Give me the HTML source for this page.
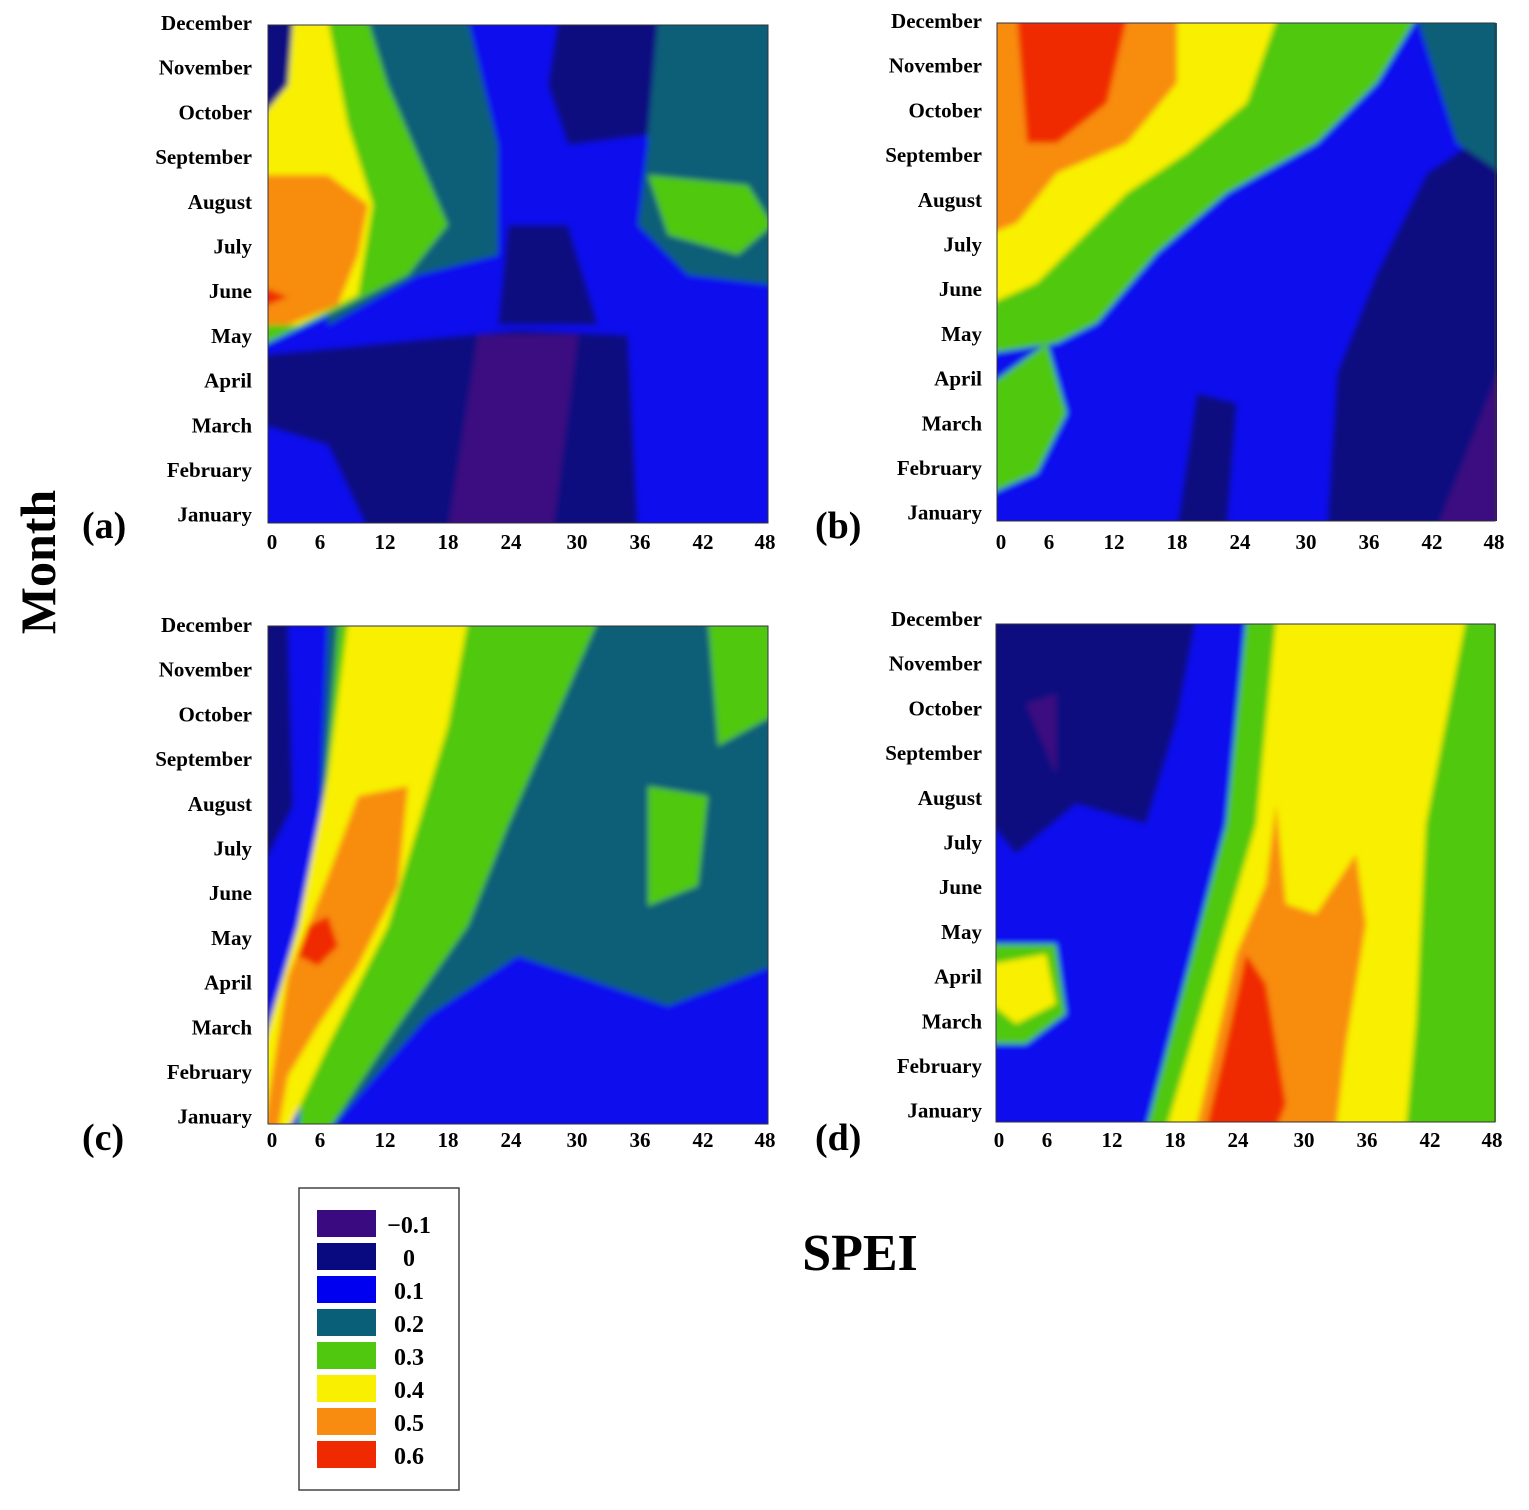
<!DOCTYPE html>
<html><head><style>
body{margin:0;background:#fff;}
svg text{font-family:"Liberation Serif",serif;font-weight:bold;}
</style></head><body>
<svg width="1529" height="1505" viewBox="0 0 1529 1505" xmlns="http://www.w3.org/2000/svg">
<defs>
<filter id="bl" x="-5%" y="-5%" width="110%" height="110%"><feGaussianBlur stdDeviation="3"/></filter>
<clipPath id="cp"><rect x="0" y="0" width="500" height="498"/></clipPath>
</defs>

<!-- Panel a -->
<g transform="translate(268,25)">
<g clip-path="url(#cp)"><g filter="url(#bl)">
<rect x="-10" y="-10" width="520" height="520" fill="#0a10ee"/>
<polygon fill="#0a5f78" points="380,-5 505,-5 505,260 420,250 370,200 380,120"/>
<polygon fill="#0a5f78" points="60,-5 200,-5 230,120 230,230 150,250 60,300"/>
<polygon fill="#50c810" points="-5,-5 100,-5 120,60 180,200 140,250 80,280 -5,320"/>
<polygon fill="#50c810" points="380,150 480,160 505,200 470,230 400,210"/>
<polygon fill="#f8f000" points="20,-5 60,-5 80,100 105,180 90,270 30,300 -5,300 -5,60"/>
<polygon fill="#f88c10" points="-5,150 60,150 100,180 90,230 70,280 20,300 -5,300"/>
<polygon fill="#f02a00" points="-5,262 20,272 -5,282"/>
<polygon fill="#0a0a80" points="-5,-5 25,-5 20,60 -5,90"/>
<polygon fill="#0a0a80" points="290,-5 390,-5 380,110 300,120 280,60"/>
<polygon fill="#0a0a80" points="-5,330 250,305 360,310 370,505 100,505 60,420 -5,400"/>
<polygon fill="#0a0a80" points="240,200 300,200 330,300 230,300"/>
<polygon fill="#3a0a80" points="210,310 310,310 285,505 180,505"/>
</g></g>
<rect x="0" y="0" width="500" height="498" fill="none" stroke="#333" stroke-width="1"/>
</g>

<!-- Panel b -->
<g transform="translate(997,23)">
<g clip-path="url(#cp)"><g filter="url(#bl)">
<rect x="-10" y="-10" width="520" height="520" fill="#0a10ee"/>
<polygon fill="#0a0a80" points="330,505 505,505 505,100 430,150 380,250 340,350"/>
<polygon fill="#0a0a80" points="180,505 230,505 240,380 200,370"/>
<polygon fill="#3a0a80" points="440,505 505,505 505,340"/>
<polygon fill="#0a5f78" points="420,-5 505,-5 505,150 460,120"/>
<polygon fill="#50c810" points="-5,-5 420,-5 380,60 320,120 230,170 160,230 100,300 60,320 -5,330"/>
<polygon fill="#50c810" points="-5,360 50,320 70,390 40,450 -5,470"/>
<polygon fill="#f8f000" points="-5,-5 280,-5 250,80 190,130 130,170 90,210 40,260 -5,280"/>
<polygon fill="#f88c10" points="-5,-5 180,-5 180,60 130,120 60,150 20,200 -5,210"/>
<polygon fill="#f02a00" points="20,-5 130,-5 110,80 60,120 30,120"/>
</g></g>
<rect x="0" y="0" width="498" height="498" fill="none" stroke="#333" stroke-width="1"/>
</g>

<!-- Panel c -->
<g transform="translate(268,626)">
<g clip-path="url(#cp)"><g filter="url(#bl)">
<rect x="-10" y="-10" width="520" height="520" fill="#0a10ee"/>
<polygon fill="#0a5f78" points="60,-5 505,-5 505,340 400,380 250,330 160,390 60,505 40,505"/>
<polygon fill="#50c810" points="70,-5 330,-5 240,200 200,300 130,400 60,505 30,505"/>
<polygon fill="#50c810" points="440,-5 505,-5 505,90 450,120"/>
<polygon fill="#50c810" points="380,160 440,170 430,260 380,280"/>
<polygon fill="#f8f000" points="80,-5 200,-5 180,100 150,200 120,300 60,420 20,505 -5,505 -5,420 30,300 60,150"/>
<polygon fill="#f88c10" points="90,170 140,160 130,260 90,340 50,400 20,450 10,505 -5,505 20,350 40,300 60,250"/>
<polygon fill="#f02a00" points="40,300 60,290 70,320 50,340 30,330"/>
<polygon fill="#0a0a80" points="-5,-5 20,-5 25,180 -5,240"/>
</g></g>
<rect x="0" y="0" width="500" height="498" fill="none" stroke="#333" stroke-width="1"/>
</g>

<!-- Panel d -->
<g transform="translate(996,624)">
<g clip-path="url(#cp)"><g filter="url(#bl)">
<rect x="-10" y="-10" width="520" height="520" fill="#0a10ee"/>
<polygon fill="#0a0a80" points="-5,-5 200,-5 180,100 150,200 80,180 20,230 -5,200"/>
<polygon fill="#3a0a80" points="30,80 60,70 60,150"/>
<polygon fill="#50c810" points="-5,320 60,320 70,390 30,420 -5,420"/>
<polygon fill="#50c810" points="150,505 230,200 250,-5 505,-5 505,505"/>
<polygon fill="#f8f000" points="170,505 260,200 280,-5 470,-5 430,200 420,400 410,505"/>
<polygon fill="#f8f000" points="-5,340 50,330 60,380 20,400 -5,380"/>
<polygon fill="#f88c10" points="200,505 240,330 270,260 280,180 290,280 320,290 360,230 370,300 350,420 340,505"/>
<polygon fill="#f02a00" points="210,505 230,420 250,330 270,360 290,480 280,505"/>
</g></g>
<rect x="0" y="0" width="499" height="498" fill="none" stroke="#333" stroke-width="1"/>
</g>

<!-- Month labels -->
<g font-size="21" text-anchor="end">
<g transform="translate(252,30)">
<text y="0">December</text><text y="44.7">November</text><text y="89.4">October</text><text y="134.1">September</text><text y="178.8">August</text><text y="223.5">July</text><text y="268.2">June</text><text y="312.9">May</text><text y="357.6">April</text><text y="402.3">March</text><text y="447">February</text><text y="491.7">January</text>
</g>
<g transform="translate(982,28)">
<text y="0">December</text><text y="44.7">November</text><text y="89.4">October</text><text y="134.1">September</text><text y="178.8">August</text><text y="223.5">July</text><text y="268.2">June</text><text y="312.9">May</text><text y="357.6">April</text><text y="402.3">March</text><text y="447">February</text><text y="491.7">January</text>
</g>
<g transform="translate(252,632)">
<text y="0">December</text><text y="44.7">November</text><text y="89.4">October</text><text y="134.1">September</text><text y="178.8">August</text><text y="223.5">July</text><text y="268.2">June</text><text y="312.9">May</text><text y="357.6">April</text><text y="402.3">March</text><text y="447">February</text><text y="491.7">January</text>
</g>
<g transform="translate(982,626)">
<text y="0">December</text><text y="44.7">November</text><text y="89.4">October</text><text y="134.1">September</text><text y="178.8">August</text><text y="223.5">July</text><text y="268.2">June</text><text y="312.9">May</text><text y="357.6">April</text><text y="402.3">March</text><text y="447">February</text><text y="491.7">January</text>
</g>
</g>

<!-- X tick labels -->
<g font-size="21" text-anchor="middle">
<g transform="translate(0,549)"><text x="272">0</text><text x="320">6</text><text x="385">12</text><text x="448">18</text><text x="511">24</text><text x="577">30</text><text x="640">36</text><text x="703">42</text><text x="765">48</text></g>
<g transform="translate(729,0)"><g transform="translate(0,549)"><text x="272">0</text><text x="320">6</text><text x="385">12</text><text x="448">18</text><text x="511">24</text><text x="577">30</text><text x="640">36</text><text x="703">42</text><text x="765">48</text></g></g>
<g transform="translate(0,1147)"><text x="272">0</text><text x="320">6</text><text x="385">12</text><text x="448">18</text><text x="511">24</text><text x="577">30</text><text x="640">36</text><text x="703">42</text><text x="765">48</text></g>
<g transform="translate(727,1147)"><text x="272">0</text><text x="320">6</text><text x="385">12</text><text x="448">18</text><text x="511">24</text><text x="577">30</text><text x="640">36</text><text x="703">42</text><text x="765">48</text></g>
</g>

<!-- Panel letters -->
<g font-size="38">
<text x="82" y="538">(a)</text>
<text x="815" y="538">(b)</text>
<text x="82" y="1150">(c)</text>
<text x="815" y="1150">(d)</text>
</g>

<text font-size="50" transform="translate(55,562) rotate(-90)" text-anchor="middle">Month</text>
<text font-size="52" x="860" y="1270" text-anchor="middle">SPEI</text>

<!-- Legend -->
<rect x="299" y="1188" width="160" height="302" fill="#fff" stroke="#444" stroke-width="1.5"/>
<g>
<rect x="317" y="1210" width="59" height="27" fill="#3a0a80"/>
<rect x="317" y="1243" width="59" height="27" fill="#0a0a80"/>
<rect x="317" y="1276" width="59" height="27" fill="#0000f0"/>
<rect x="317" y="1309" width="59" height="27" fill="#0a5f78"/>
<rect x="317" y="1342" width="59" height="27" fill="#50c810"/>
<rect x="317" y="1375" width="59" height="27" fill="#f8f000"/>
<rect x="317" y="1408" width="59" height="27" fill="#f88c10"/>
<rect x="317" y="1441" width="59" height="27" fill="#f02a00"/>
</g>
<g font-size="24" text-anchor="middle">
<text x="409" y="1233">−0.1</text>
<text x="409" y="1266">0</text>
<text x="409" y="1299">0.1</text>
<text x="409" y="1332">0.2</text>
<text x="409" y="1365">0.3</text>
<text x="409" y="1398">0.4</text>
<text x="409" y="1431">0.5</text>
<text x="409" y="1464">0.6</text>
</g>
</svg>
</body></html>
